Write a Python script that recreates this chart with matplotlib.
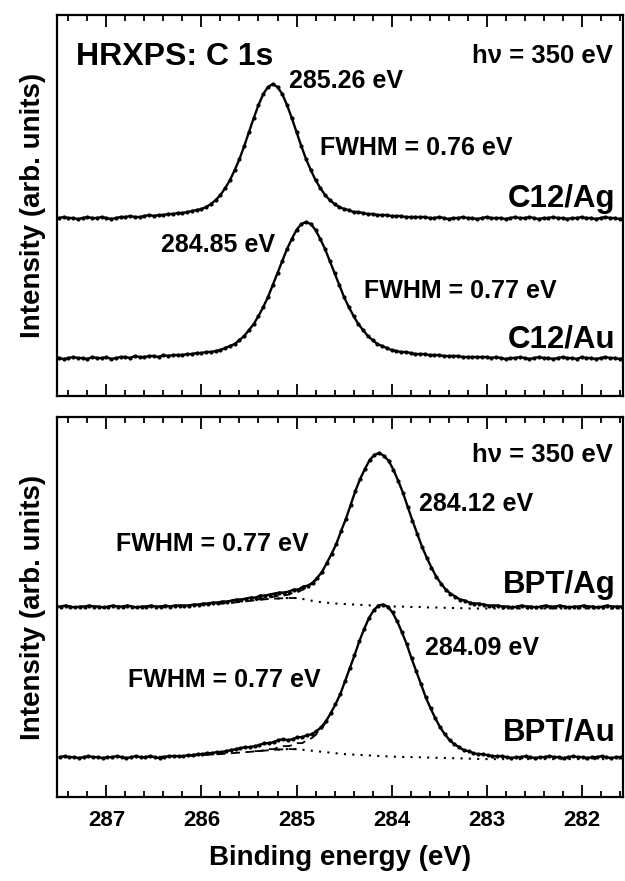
import numpy as np
import matplotlib.pyplot as plt
from matplotlib.ticker import MultipleLocator

plt.rcParams['font.family'] = ['Liberation Sans', 'DejaVu Sans']
plt.rcParams['font.weight'] = 'bold'
plt.rcParams['axes.labelweight'] = 'bold'

# ---- data (intensity, relative to each spectrum's own baseline) ----
step = 0.05  # eV between measured points

# C12/Ag, first point at 287.50 eV
c12_ag_start = 287.50
c12_ag = [0, 1, 0, 0, -1, 0, 1, 0, 0, 1, 0, -1, 0,
          1, 1, 2, 1, 1, 2, 3, 2, 3, 3, 4, 4, 5,
          5, 6, 7, 8, 9, 11, 14, 18, 23, 30, 38, 48, 59, 72, 86, 100, 113, 124, 131,
          134,
          131, 124, 113, 100, 86, 72, 59, 48, 38, 30, 23, 18, 14, 11, 9, 8, 6, 6, 5, 4,
          4, 3, 3, 3, 2, 2, 2, 1, 1, 1, 1, 1,
          0, 0, 1, 0, -1, 0, 0, 1, 0, 0, -1, 0, 1, 0, 0, 0, -1, 0, 1, 0, 0,
          1, 0, -1, 0, 0, 1, 0, 0, -1, 0, 0, 1, 0, 0, -1, 0, 1, 0, 0, -1, 0]

# C12/Au, first point at 287.50 eV
c12_au_start = 287.50
c12_au = [0, -1, 0, 1, 0, 0, -1, 1, 0, 0, 1, -1, 0, 1,
          1, 0, 2, 1, 1, 2, 2, 1, 3, 2, 3, 3,
          3, 4, 4, 5, 5, 6, 6, 7, 8, 10, 12, 14, 18, 22, 28, 34, 42, 51, 61, 73, 85,
          97, 109, 119, 128, 134,
          136,
          134, 128, 119, 109, 97, 85, 73, 61, 51, 42, 34, 28, 22, 18, 14, 12, 10, 8, 7,
          6, 6, 5, 4, 4, 4, 3, 3, 3, 2, 2, 2, 2, 1, 1, 1, 1, 1, 1,
          0, 1, 0, -1, 0, 0, 1, 0, -1, 0, 1, 0, 0, -1, 0, 1, 0, 0, -1, 1, 0, 0,
          -1, 0, 1, 0, 0, -1, 0]

# BPT/Ag, first point at 287.53 eV
bpt_ag_start = 287.53
bpt_ag = [0, 0, 1, 0, -1, 0, 0, 1, 0, 0, -1, 0, 1, 0, 0, 1, 0, -1, 0, 0, 1, 0, 0, 1, 0,
          1, 1, 1, 1, 2, 2, 3, 3, 4, 4, 5, 5, 6, 7, 7, 8, 9, 9, 11, 11,
          12, 13, 14, 14, 15, 17, 17, 20, 21, 24, 29, 35, 44, 53, 63, 76, 88, 102, 116,
          128, 138, 147, 152,
          154,
          151, 146, 137, 126, 114, 100, 86, 73, 60, 49, 39, 30, 23, 17, 13, 10, 7, 6, 4,
          3, 3, 2, 1, 1, 1,
          0, 0, -1, 0, 1, 0, 0, -1, 0, 1, 0, 0, 1, 0, -1, 0, 0, 1, 0, 0, -1, 0, 1, 0, 0, 0]

# BPT/Au, first point at 287.49 eV
bpt_au_start = 287.49
bpt_au = [0, 1, 0, 0, -1, 0, 1, 0, 0, -1, 0, 0, 1, 0, -1, 0, 1, 0, 0, 1, 0, -1, 0,
          1, 1, 1, 1, 2, 2, 3, 3, 4, 4, 5, 5, 6, 7, 8, 9, 10, 10, 11, 12,
          14, 14, 15, 17, 18, 17, 18, 20, 20, 22, 23, 26, 30, 36, 44, 53, 63, 76, 89,
          102, 116, 128, 139, 147, 152,
          153,
          151, 145, 136, 125, 113, 99, 86, 73, 60, 49, 39, 30, 23, 17, 13, 10, 7, 6, 4,
          3, 3, 2, 1, 1, 1,
          0, -1, 0, 0, 1, 0, -1, 0, 0, 1, 0, 0, -1, 0, 1, 0, 0, -1, 0, 0, 1, 0, -1, 0, 0, 1]

# fitted background of the BPT spectra, 286.6 ... 281.6 eV in 0.1 eV steps
bg_start = 286.6
bpt_ag_bg = [0, 0, 0, 0.5, 1, 1.5, 2, 2.5, 3, 3.5, 4.5, 5.5, 6.5, 7.5, 8, 8.5, 8.5, 7, 5,
             4, 3, 2.5, 2, 1.5, 1, 0.5, 0, 0, -0.5, -0.5, -1, -1, -1.5, -1.5, -2,
             -2, -2, -2, -2, -2, -2, -2, -2, -2, -2, -2, -2, -2, -2, -2, -2]
bpt_au_bg = [0, 0.2, 0.5, 0.8, 1, 1.5, 2, 2.5, 3, 3.8, 4.5, 5.2, 6, 6.8, 7.5, 8, 8, 7, 6,
             5, 4, 3, 2.5, 2, 1.5, 1, 0.5, 0.2, 0, -0.2, -0.5, -0.8, -1, -1.2, -1.5,
             -1.8, -2, -2, -2, -2, -2, -2, -2, -2, -2, -2, -2, -2, -2, -2, -2]

# main component + background on the rising edge (dashed)
bpt_ag_main = [6, 8, 8, 9, 10, 11, 11, 12, 14, 15, 17, 20, 23, 28, 34]        # points 42..56
bpt_au_main = [6, 6, 7, 8, 8, 10, 11, 11, 12, 14, 14, 17, 19, 23, 28, 35]     # points 41..56

# vertical stacking offsets
offsets = {'C12/Ag': 178, 'C12/Au': 38, 'BPT/Ag': 191, 'BPT/Au': 40}


def energy(start, n, de):
    return start - de * np.arange(n)


def spectrum(ax, start, vals, off):
    e = energy(start, len(vals), step)
    y = np.array(vals) + off
    ax.plot(e, y, color='black', lw=1.7, zorder=3)
    ax.plot(e, y, 'o', color='black', ms=3.0, mew=0, zorder=4)
    return e


def style(ax, labels):
    ax.set_xlim(287.52, 281.565)
    ax.set_ylim(0, 381)
    ax.set_yticks([])
    ax.xaxis.set_major_locator(MultipleLocator(1))
    ax.xaxis.set_minor_locator(MultipleLocator(0.2))
    ax.tick_params(axis='x', which='both', direction='in', top=True, bottom=True,
                   width=1.3, labelsize=16, pad=9, labelbottom=labels)
    ax.tick_params(axis='x', which='major', length=8.5)
    ax.tick_params(axis='x', which='minor', length=4.5)
    for s in ax.spines.values():
        s.set_linewidth(1.6)
    ax.set_ylabel('Intensity (arb. units)', fontsize=20, fontweight='bold', labelpad=8)


fig = plt.figure(figsize=(6.25, 8.81), dpi=100)
ax1 = fig.add_axes([57 / 625, 1 - 396 / 881, 566 / 625, 381 / 881])
ax2 = fig.add_axes([57 / 625, 1 - 797 / 881, 566 / 625, 380 / 881])

# ---- top panel: C12 SAMs ----
spectrum(ax1, c12_ag_start, c12_ag, offsets['C12/Ag'])
spectrum(ax1, c12_au_start, c12_au, offsets['C12/Au'])
style(ax1, False)

tk = dict(fontweight='bold', va='baseline')
ax1.text(287.316, 331, 'HRXPS: C 1s', fontsize=23, ha='left', **tk)
ax1.text(281.674, 333, 'h\u03bd = 350 eV', fontsize=18.5, ha='right', **tk)
ax1.text(285.084, 308, '285.26 eV', fontsize=18, ha='left', **tk)
ax1.text(284.758, 241, 'FWHM = 0.76 eV', fontsize=18, ha='left', **tk)
ax1.text(281.642, 189, 'C12/Ag', fontsize=22.5, ha='right', **tk)
ax1.text(286.421, 144, '284.85 eV', fontsize=18, ha='left', **tk)
ax1.text(284.295, 98, 'FWHM = 0.77 eV', fontsize=18, ha='left', **tk)
ax1.text(281.642, 49, 'C12/Au', fontsize=22.5, ha='right', **tk)

# ---- bottom panel: BPT SAMs ----
e_ag = spectrum(ax2, bpt_ag_start, bpt_ag, offsets['BPT/Ag'])
e_au = spectrum(ax2, bpt_au_start, bpt_au, offsets['BPT/Au'])

e_bg = energy(bg_start, len(bpt_ag_bg), 0.1)
left = e_bg >= 284.95
right = e_bg <= 285.25
for bg, key in [(bpt_ag_bg, 'BPT/Ag'), (bpt_au_bg, 'BPT/Au')]:
    b = np.array(bg) + offsets[key]
    ax2.plot(e_bg[left], b[left], color='black', lw=1.3, dashes=(5, 3), zorder=2)
    ax2.plot(e_bg[right], b[right], color='black', lw=1.5, dashes=(1, 3), zorder=2)

ax2.plot(e_ag[42:57], np.array(bpt_ag_main) + offsets['BPT/Ag'], color='black',
         lw=1.3, dashes=(5, 3), zorder=2)
ax2.plot(e_au[41:57], np.array(bpt_au_main) + offsets['BPT/Au'], color='black',
         lw=1.3, dashes=(5, 3), zorder=2)
style(ax2, True)

ax2.text(281.674, 336, 'h\u03bd = 350 eV', fontsize=18.5, ha='right', **tk)
ax2.text(283.716, 287, '284.12 eV', fontsize=18, ha='left', **tk)
ax2.text(286.895, 247, 'FWHM = 0.77 eV', fontsize=18, ha='left', **tk)
ax2.text(281.642, 205, 'BPT/Ag', fontsize=22.5, ha='right', **tk)
ax2.text(283.653, 142, '284.09 eV', fontsize=18, ha='left', **tk)
ax2.text(286.768, 110, 'FWHM = 0.77 eV', fontsize=18, ha='left', **tk)
ax2.text(281.642, 57, 'BPT/Au', fontsize=22.5, ha='right', **tk)

fig.text(340 / 625, 1 - 865 / 881, 'Binding energy (eV)', fontsize=20,
         fontweight='bold', ha='center', va='baseline')

fig.savefig('out.png', dpi=100)
